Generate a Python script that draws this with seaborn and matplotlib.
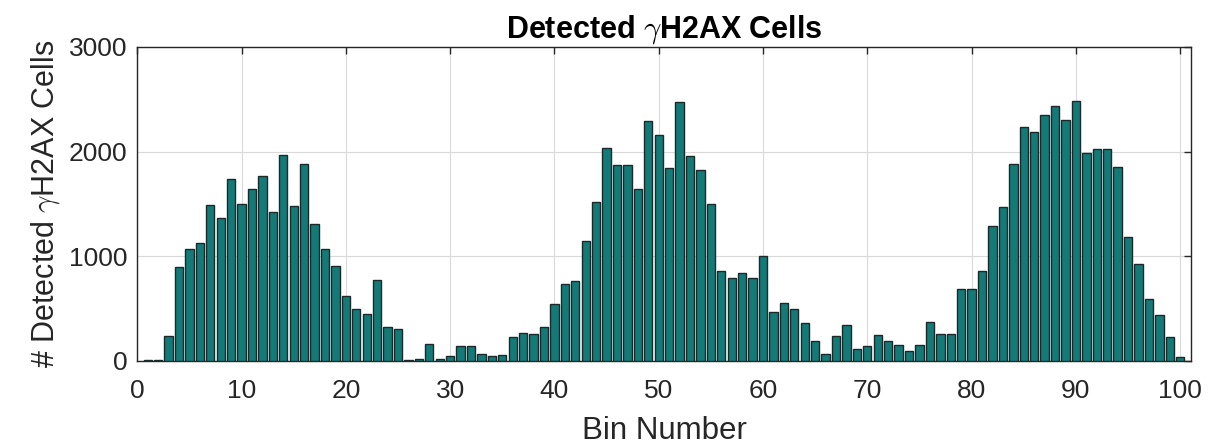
import numpy as np
import pandas as pd
import matplotlib
matplotlib.use("Agg")
import matplotlib.pyplot as plt
import seaborn as sns

bins = list(range(1, 101))
counts = [
    5, 8, 236, 900, 1069, 1129, 1486, 1368, 1742, 1499,
    1646, 1770, 1426, 1965, 1477, 1885, 1311, 1069, 912, 622,
    498, 453, 772, 325, 306, 5, 20, 163, 22, 50,
    147, 147, 70, 50, 55, 233, 265, 262, 322, 545,
    737, 766, 1142, 1515, 2035, 1869, 1869, 1646, 2290, 2163,
    1844, 2472, 1959, 1821, 1499, 858, 797, 842, 797, 1005,
    466, 558, 494, 364, 188, 67, 242, 348, 112, 144,
    246, 188, 156, 96, 156, 373, 262, 255, 692, 692,
    861, 1289, 1470, 1885, 2239, 2185, 2351, 2437, 2303, 2485,
    1990, 2022, 2022, 1856, 1183, 931, 590, 437, 230, 38,
]
xticks = [0, 10, 20, 30, 40, 50, 60, 70, 80, 90, 100]
yticks = [0, 1000, 2000, 3000]
title = r"Detected $\gamma$H2AX Cells"
xlabel = "Bin Number"
ylabel = r"# Detected $\gamma$H2AX Cells"

sns.set_style("white")
plt.rcParams['font.family'] = ['Liberation Sans', 'DejaVu Sans']
plt.rcParams['mathtext.fontset'] = 'cm'

df = pd.DataFrame({"bin": bins, "count": counts})

fig = plt.figure(figsize=(12.3, 4.45), dpi=100)
ax = fig.add_axes([0.1116, 0.1888, 0.8564, 0.7056])

sns.barplot(data=df, x="bin", y="count", native_scale=True, width=0.8,
            color="#137a78", saturation=1, edgecolor="#1a2a2a", linewidth=1.0,
            ax=ax, zorder=3)

ax.set_xlim(0, 101)
ax.set_ylim(0, 3000)
ax.set_xticks(xticks)
ax.set_yticks(yticks)
ax.set_xticklabels([str(t) for t in xticks])
ax.set_yticklabels([str(t) for t in yticks])
ax.grid(True, color="#d9d9d9", linewidth=0.8, zorder=0)
ax.set_axisbelow(True)
ax.tick_params(direction="in", length=5, width=1.0, top=True, right=True,
               labelsize=19, colors="#262626")
ax.tick_params(axis="x", pad=13)
ax.tick_params(axis="y", pad=7)
for s in ax.spines.values():
    s.set_color("#262626")
    s.set_linewidth(1.0)
    s.set_visible(True)

ax.set_title(title, fontsize=22, fontweight="bold", pad=7, color="black")
ax.set_xlabel(xlabel, fontsize=22.5, color="#262626", labelpad=9)
ax.set_ylabel(ylabel, fontsize=22, color="#262626", labelpad=5)

fig.savefig("out.png", dpi=100)
